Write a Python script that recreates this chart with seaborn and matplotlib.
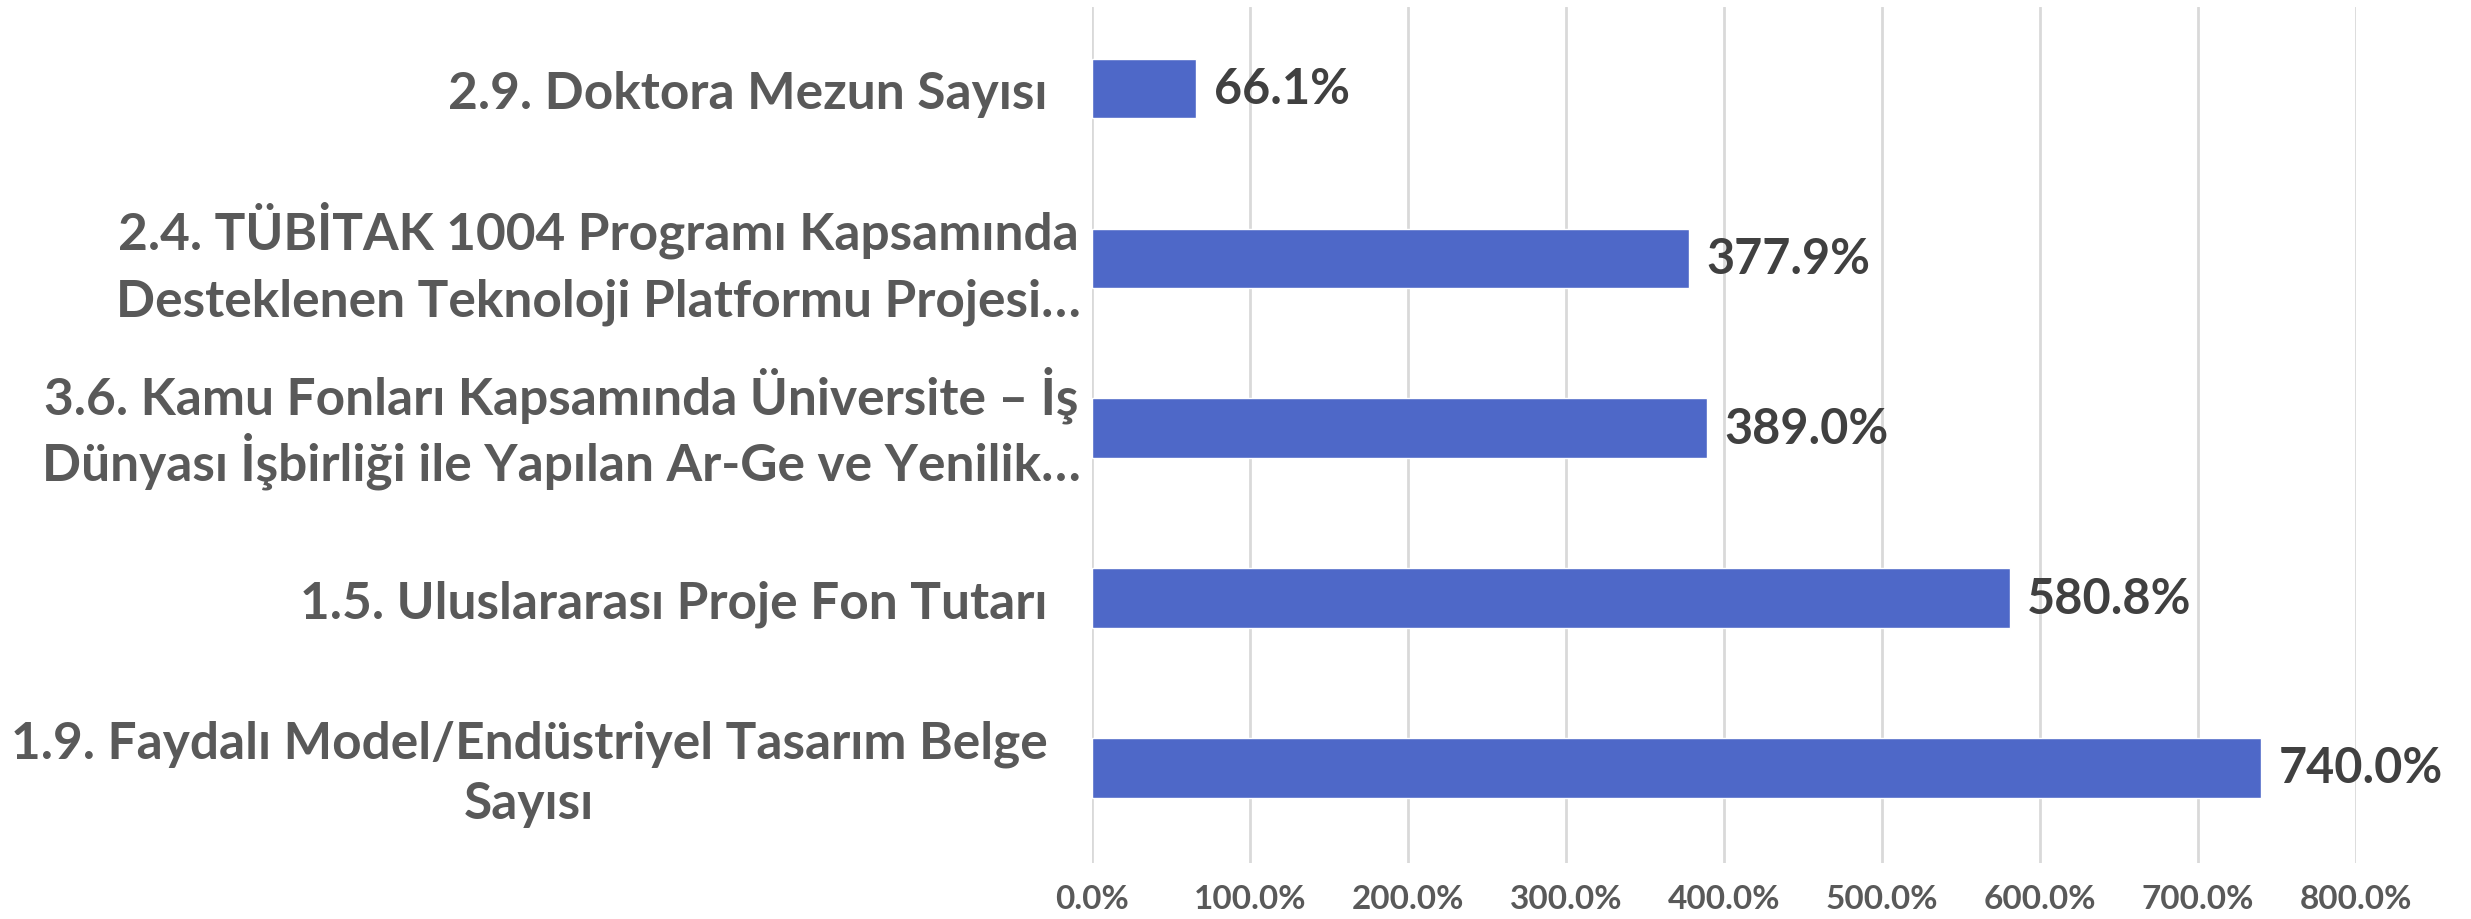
import matplotlib
matplotlib.use("Agg")
import matplotlib.pyplot as plt
import matplotlib.transforms as mtransforms
import seaborn as sns

# göstergeler (yukarıdan aşağıya)
labels = [
    "2.9. Doktora Mezun Sayısı",
    "2.4. TÜBİTAK 1004 Programı Kapsamında\nDesteklenen Teknoloji Platformu Projesi…",
    "3.6. Kamu Fonları Kapsamında Üniversite – İş\nDünyası İşbirliği ile Yapılan Ar-Ge ve Yenilik…",
    "1.5. Uluslararası Proje Fon Tutarı",
    "1.9. Faydalı Model/Endüstriyel Tasarım Belge\nSayısı",
]
values = [66.1, 377.9, 389.0, 580.8, 740.0]
value_labels = ["66.1%", "377.9%", "389.0%", "580.8%", "740.0%"]
xticks = [0, 100, 200, 300, 400, 500, 600, 700, 800]
xtick_labels = ["0.0%", "100.0%", "200.0%", "300.0%", "400.0%",
                "500.0%", "600.0%", "700.0%", "800.0%"]

sns.set_style("white")
plt.rcParams["font.family"] = ["Lato", "DejaVu Sans"]

fig = plt.figure(figsize=(24.71, 9.2), dpi=100)
ax = fig.add_axes([1092 / 2471, 1 - 864 / 920, (2356 - 1092) / 2471, (864 - 8) / 920])

sns.barplot(x=values, y=labels, orient="h", color="#4E68C8", width=0.35,
            saturation=1, ax=ax)

ax.set_xlim(0, 800)
ax.set_ylim(4.56, -0.48)
ax.set_xticks(xticks)
ax.set_xticklabels(xtick_labels, fontsize=24, fontweight="bold", color="#595959")
ax.tick_params(axis="x", length=0, pad=15)
ax.tick_params(axis="y", length=0, pad=32)
ax.grid(axis="x", color="#D9D9D9", linewidth=2)
ax.set_axisbelow(True)
for s in ax.spines.values():
    s.set_visible(False)
ax.set_xlabel("")
ax.set_ylabel("")

for t in ax.get_yticklabels():
    txt = t.get_text()
    t.set_fontsize(37)
    t.set_fontweight("bold")
    t.set_color("#595959")
    t.set_multialignment("center")
    # satırda İ varsa matplotlib satırı büyütüyor, aralığı biraz kıs
    dy = 10 if "\n" in txt else 0
    if "\nDünyası İ" in txt:
        t.set_linespacing(1.18)
    elif "\nSayısı" in txt:
        t.set_linespacing(1.34)
        dy = 6
    else:
        t.set_linespacing(1.5)
    dx = 33 if "…" in txt else 0
    if dx or dy:
        t.set_transform(t.get_transform() + mtransforms.ScaledTranslation(dx / 100, dy / 100, fig.dpi_scale_trans))

for i, (v, lab) in enumerate(zip(values, value_labels)):
    ax.text(v + 11, i, lab, va="center", ha="left", fontsize=35,
            fontweight="bold", color="#404040")

fig.savefig("out.png", dpi=100, facecolor="white")
